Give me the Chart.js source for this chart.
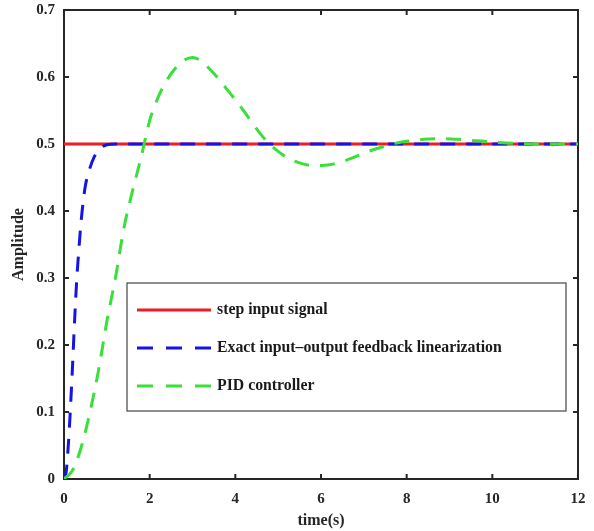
<!DOCTYPE html>
<html>
<head>
<meta charset="utf-8">
<script src="https://cdn.jsdelivr.net/npm/chart.js@4/dist/chart.umd.min.js"></script>
<style>
html,body{margin:0;padding:0;background:#fff;}
canvas{display:block;}
</style>
</head>
<body>
<canvas id="c" width="594" height="531"></canvas>
<script>
// ---- data ----
const xTicks = [0, 2, 4, 6, 8, 10, 12];
const yTicks = [0, 0.1, 0.2, 0.3, 0.4, 0.5, 0.6, 0.7];

const stepT = [0, 12];
const stepV = [0.5, 0.5];

const exactT = [0, 0.05, 0.1, 0.15, 0.2, 0.25, 0.3, 0.35, 0.4, 0.45, 0.5, 0.6, 0.7, 0.8, 0.9, 1.0, 1.2, 12];
const exactV = [0, 0.01, 0.05, 0.105, 0.17, 0.24, 0.3, 0.345, 0.385, 0.415, 0.438, 0.463, 0.48, 0.49, 0.496, 0.499, 0.5, 0.5];

const pidT = [0, 0.2, 0.4, 0.6, 0.8, 1.0, 1.2, 1.4, 1.6, 1.8, 2.0, 2.2, 2.4, 2.6, 2.8, 3.0, 3.2, 3.4, 3.6, 3.8, 4.0, 4.2, 4.4, 4.6, 4.8, 5.0, 5.2, 5.4, 5.6, 5.8, 6.0, 6.2, 6.4, 6.6, 6.8, 7.0, 7.2, 7.4, 7.6, 7.8, 8.0, 8.4, 8.8, 9.2, 9.6, 10.0, 10.5, 11, 11.5, 12];
const pidV = [0, 0.013, 0.047, 0.098, 0.16, 0.235, 0.30, 0.375, 0.43, 0.48, 0.535, 0.57, 0.595, 0.613, 0.625, 0.629, 0.624, 0.612, 0.598, 0.582, 0.566, 0.549, 0.531, 0.514, 0.5, 0.489, 0.48, 0.474, 0.47, 0.468, 0.468, 0.469, 0.472, 0.476, 0.481, 0.486, 0.491, 0.495, 0.499, 0.502, 0.504, 0.507, 0.508, 0.507, 0.505, 0.503, 0.501, 0.5, 0.5, 0.5];

const labels = ['step input signal', 'Exact input\u2013output feedback linearization', 'PID controller'];
const colors = ['#f01c24', '#1414e6', '#38e038'];

const toXY = (t, v) => t.map((x, i) => ({x: x, y: v[i]}));

const FONT = '"Liberation Serif", "Times New Roman", serif';
const DASH = [15, 11];

const framePlugin = {
  id: 'frame',
  beforeDatasetsDraw(chart) {
    const {ctx, chartArea: a, scales} = chart;
    ctx.save();
    ctx.strokeStyle = '#262626';
    ctx.lineWidth = 2;
    ctx.strokeRect(a.left, a.top, a.right - a.left, a.bottom - a.top);
    const L = 5;
    ctx.beginPath();
    xTicks.forEach(v => {
      const px = scales.x.getPixelForValue(v);
      ctx.moveTo(px, a.bottom); ctx.lineTo(px, a.bottom - L);
      ctx.moveTo(px, a.top); ctx.lineTo(px, a.top + L);
    });
    yTicks.forEach(v => {
      const py = scales.y.getPixelForValue(v);
      ctx.moveTo(a.left, py); ctx.lineTo(a.left + L, py);
      ctx.moveTo(a.right, py); ctx.lineTo(a.right - L, py);
    });
    ctx.stroke();
    ctx.restore();
  },
  afterDatasetsDraw(chart) {
    const {ctx} = chart;
    const bx = 127, by = 283, bw = 439, bh = 128;
    ctx.save();
    ctx.fillStyle = '#fff';
    ctx.fillRect(bx, by, bw, bh);
    ctx.strokeStyle = '#444';
    ctx.lineWidth = 1.2;
    ctx.strokeRect(bx, by, bw, bh);
    const rows = [310, 348, 386];
    chart.data.datasets.forEach((ds) => {
      const y = rows[ds.legendIndex];
      ctx.strokeStyle = ds.borderColor;
      ctx.lineWidth = 3;
      ctx.setLineDash(ds.borderDash && ds.borderDash.length ? [16, 13] : []);
      ctx.beginPath();
      ctx.moveTo(137, y); ctx.lineTo(211, y);
      ctx.stroke();
      ctx.setLineDash([]);
      ctx.fillStyle = '#1a1a1a';
      ctx.font = 'bold 15.8px ' + FONT;
      ctx.textBaseline = 'middle';
      ctx.textAlign = 'left';
      ctx.fillText(ds.label, 217, y);
    });
    ctx.restore();
  }
};

new Chart(document.getElementById('c'), {
  type: 'line',
  data: {
    datasets: [
      {label: labels[0], legendIndex: 0, data: toXY(stepT, stepV), borderColor: colors[0], borderWidth: 3, pointRadius: 0, order: 3, tension: 0},
      {label: labels[1], legendIndex: 1, data: toXY(exactT, exactV), borderColor: colors[1], borderWidth: 3, borderDash: DASH, pointRadius: 0, order: 2, cubicInterpolationMode: 'monotone'},
      {label: labels[2], legendIndex: 2, data: toXY(pidT, pidV), borderColor: colors[2], borderWidth: 3, borderDash: DASH, pointRadius: 0, order: 1, cubicInterpolationMode: 'monotone'}
    ]
  },
  options: {
    responsive: false,
    devicePixelRatio: 1,
    animation: false,
    layout: {padding: {top: 10, right: 16, left: 0, bottom: 0}},
    plugins: {legend: {display: false}, tooltip: {enabled: false}},
    scales: {
      x: {
        type: 'linear', min: 0, max: 12,
        afterFit(s) { s.height = 52; s.paddingLeft = 0; s.paddingRight = 0; },
        afterBuildTicks(s) { s.ticks = xTicks.map(v => ({value: v})); },
        grid: {display: false},
        border: {display: false},
        ticks: {font: {family: FONT, size: 15, weight: 'bold'}, color: '#262626', padding: 3, maxRotation: 0},
        title: {display: true, text: 'time(s)', font: {family: FONT, size: 16, weight: 'bold'}, color: '#262626', padding: {top: 0, bottom: 1}}
      },
      y: {
        type: 'linear', min: 0, max: 0.7,
        afterFit(s) { s.width = 64; s.paddingTop = 0; s.paddingBottom = 0; },
        afterBuildTicks(s) { s.ticks = yTicks.map(v => ({value: v})); },
        grid: {display: false},
        border: {display: false},
        ticks: {font: {family: FONT, size: 15, weight: 'bold'}, color: '#262626', padding: 1,
                callback: v => String(Math.round(v * 10) / 10)},
        title: {display: true, text: 'Amplitude', font: {family: FONT, size: 16, weight: 'bold'}, color: '#262626', padding: {top: 9, bottom: 0}}
      }
    }
  },
  plugins: [framePlugin]
});
</script>
</body>
</html>
